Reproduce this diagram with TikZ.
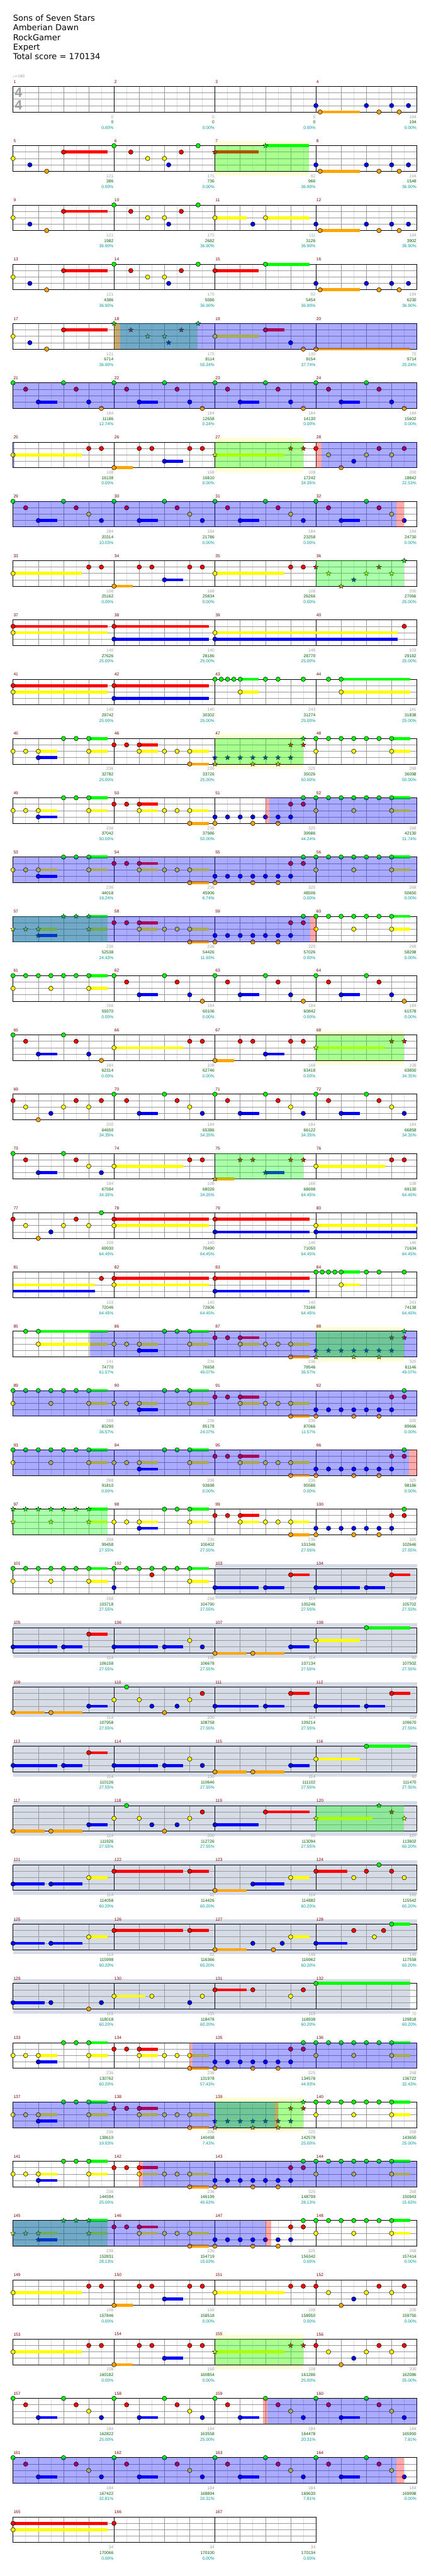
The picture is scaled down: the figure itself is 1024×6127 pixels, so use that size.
\documentclass[tikz,border=0pt]{standalone}
\usepackage{fontspec}
\setmainfont{DejaVu Sans}
\newfontfamily\labelfont{Liberation Sans}
\usetikzlibrary{shapes.geometric}
\definecolor{lane0}{HTML}{00FF00}
\definecolor{lane1}{HTML}{FF0000}
\definecolor{lane2}{HTML}{FFFF00}
\definecolor{lane3}{HTML}{0000FF}
\definecolor{lane4}{HTML}{FFA500}
\definecolor{barRed}{HTML}{800000}
\definecolor{scoreGray}{HTML}{A0A0A0}
\definecolor{scoreGreen}{HTML}{006400}
\definecolor{scoreTeal}{HTML}{009999}
\definecolor{gridGray}{HTML}{999999}
\definecolor{gridLight}{HTML}{DDDDDD}
\definecolor{phraseBand}{HTML}{FFFFD5}
\definecolor{soloBand}{HTML}{D5DCE8}
\pgfdeclarelayer{bands}
\pgfdeclarelayer{grid}
\pgfdeclarelayer{tint}
\pgfsetlayers{bands,grid,main,tint}
\newcommand\smallnum{\labelfont\fontsize{10}{12}\selectfont}
\tikzset{
  staffrow/.style={shift={(31,{205.5+141*(#1-1)})}},
  frame/.style={draw=black, line width=1.2pt},
  barline/.style={draw=black, line width=1pt},
  beatline/.style={draw=gridGray, line width=1pt},
  laneline/.style={draw=gridGray, line width=1pt},
  subline/.style={draw=gridLight, line width=1pt},
  gem/.style={circle, draw=black, line width=0.8pt, minimum size=10.5pt, inner sep=0pt},
  stargem/.style={star, star points=5, star point ratio=2.3, draw=black,
                  line width=0.6pt, minimum size=12pt, inner sep=0pt},
  sus/.style={line width=7pt},
  spblue/.style={fill=blue, fill opacity=0.333},
  spgreen/.style={fill=lane0, fill opacity=0.333},
  spred/.style={fill=red, fill opacity=0.333},
  barnum/.style={anchor=west, inner sep=0pt, text=barRed, font=\smallnum},
  gscore/.style={anchor=east, inner sep=0pt, text=scoreGray, font=\smallnum},
  tscore/.style={anchor=east, inner sep=0pt, text=scoreGreen, font=\smallnum},
  pscore/.style={anchor=east, inner sep=0pt, text=scoreTeal, font=\smallnum},
  titletext/.style={anchor=base west, inner sep=0pt, font=\fontsize{19.5}{23}\selectfont},
}
% one staff row: grid and bar numbers
\newcommand\staffgrid[1]{%
  \pgfmathtruncatemacro\gridend{#1*240}%
  \begin{pgfonlayer}{grid}
    \foreach \gx in {30,90,...,\gridend} \draw[subline] (\gx,0) -- (\gx,60.8);
    \foreach \gy in {15.2,30.4,45.6} \draw[laneline] (0,\gy) -- (\gridend,\gy);
    \foreach \gx in {60,120,...,\gridend} \draw[beatline] (\gx,0) -- (\gx,60.8);
    \foreach \gx in {240,480,...,\gridend} \draw[barline] (\gx,0) -- (\gx,60.8);
    \draw[frame] (0,0) rectangle (\gridend,60.8);
  \end{pgfonlayer}
  \foreach \m in {1,...,#1}{%
    \pgfmathtruncatemacro\mnum{4*(\rw-1)+\m}%
    \node[barnum] (bar-\mnum) at ({240*(\m-1)+1},-11.4) {\mnum};}}
\newcommand\staffstart[2]{\begin{scope}[staffrow=#1]\def\rw{#1}\staffgrid{#2}}
\newcommand\staffstop{\end{scope}}
% a gem, with its sustain
\newcommand\drawgem[5]{%
  \pgfmathtruncatemacro\posx{#1+#2}%
  \pgfmathsetmacro\posy{15.2*#3}%
  \ifnum#4>0
    \pgfmathtruncatemacro\posend{#1+#4}%
    \coordinate (sus-\rw-\posx-#3) at (\posx,\posy);
    \coordinate (end-\rw-\posx-#3) at (\posend,\posy);
    \draw[sus, draw=lane#3] (sus-\rw-\posx-#3) -- (end-\rw-\posx-#3);
  \fi
  \node[#5, fill=lane#3] (gem-\rw-\posx-#3) at (\posx,\posy) {};}
\newcommand\gems[2][0]{\edef\gemlist{#2}%
  \foreach \px/\pl/\pe in \gemlist {\drawgem{#1}{\px}{\pl}{\pe}{gem}}}
\newcommand\stars[2][0]{\edef\gemlist{#2}%
  \foreach \px/\pl/\pe in \gemlist {\drawgem{#1}{\px}{\pl}{\pe}{stargem}}}
\newcommand\tails[1]{\foreach \px/\pl/\pe in {#1}{%
  \coordinate (tail-\rw-\pl) at (\px,{15.2*\pl});
  \coordinate (tailend-\rw-\pl) at (\pe,{15.2*\pl});
  \draw[sus, draw=lane\pl] (tail-\rw-\pl) -- (tailend-\rw-\pl);}}
\newcommand\tint[3]{\begin{pgfonlayer}{tint}\fill[#1] (#2,0) rectangle (#3,60.8);\end{pgfonlayer}}
\newcommand\hiband[3]{\begin{pgfonlayer}{bands}\fill[#1] (#2,-10.5) rectangle (#3,71.5);\end{pgfonlayer}}
\newcommand\scores[1]{\foreach \gs/\ts/\ps [count=\m] in {#1}{%
  \node[gscore] (gs-\rw-\m) at ({240*\m-1},72.3) {\gs};
  \node[tscore] (ts-\rw-\m) at ({240*\m-1},85.3) {\ts};
  \node[pscore] (ps-\rw-\m) at ({240*\m-1},98.3) {\ps\%};}}
% riffs
\def\riffA{0/3/0, 120/3/0, 180/3/0, 220/3/0, 10/4/105, 150/4/0, 198/4/0}
\def\riffI{0/2/0, 40/3/0, 80/4/0, 120/1/225, 240/0/0, 280/1/0, 320/2/0, 360/2/0, 370/3/0, 400/1/0, 440/0/0}
\def\riffB{0/0/0, 30/1/0, 60/3/105, 120/0/0, 150/1/0, 180/3/0, 210/4/0}
\def\riffBb{0/0/0, 30/1/0, 60/3/105, 120/0/0, 150/1/0, 180/2/0, 210/3/0}
\def\riffCa{0/2/0, 30/2/0, 60/2/105, 60/3/105, 120/0/0, 150/0/0, 180/0/225, 180/2/225}
\def\riffCb{240/1/0, 270/1/0, 300/1/345, 300/2/345, 360/2/0, 390/2/0, 420/2/465, 420/4/465}
\def\riffCc{480/3/0, 510/3/0, 540/3/0, 570/3/0, 600/3/0, 630/3/0, 660/3/0, 480/4/0, 570/4/0, 630/4/0, 660/1/0, 690/1/0, 690/0/0}
\def\riffCd{720/0/0, 750/0/0, 780/0/0, 810/0/0, 840/0/0, 870/0/0, 900/0/944, 720/2/0, 810/2/0, 900/2/944}
\def\riffDa{0/0/0, 30/0/0, 60/0/0, 90/0/0, 120/0/0, 150/0/0, 180/0/225, 0/2/0, 90/2/0, 180/2/225}
\def\riffDb{240/2/0, 270/2/0, 300/2/345, 300/3/345, 360/0/0, 390/0/0, 420/0/465, 420/2/465}
\def\riffDc{480/1/0, 510/1/0, 540/1/585, 540/2/585, 600/2/0, 630/2/0, 660/2/705, 660/4/705}
\def\riffDd{720/3/0, 750/3/0, 780/3/0, 810/3/0, 840/3/0, 870/3/0, 900/3/0, 720/4/0, 810/4/0, 870/4/0, 900/1/0, 930/1/0, 930/0/0}
\def\riffE{0/2/164, 180/1/0, 210/1/0, 240/4/285, 300/1/0, 330/1/0, 360/3/405, 420/1/0, 450/1/0}
\def\riffF{0/1/0, 30/2/0, 60/4/0, 90/3/0, 120/2/0, 150/1/0, 180/2/0}
\def\riffG{0/3/105, 120/3/165, 180/1/225, 240/3/345, 360/3/405, 420/2/0, 450/3/0, 480/4/555, 570/4/645, 660/3/705, 720/2/825, 840/0/944}
\def\riffH{0/4/75, 90/4/165, 180/3/225, 240/2/0, 270/0/0, 300/2/0, 330/3/0, 360/4/0, 390/3/0, 420/2/0, 450/1/0}
\def\riffK{720/1/0, 750/2/0, 780/4/0, 810/3/0, 840/2/0, 870/1/0, 900/2/0, 930/1/0}
\begin{document}
\begin{tikzpicture}[x=1pt, y=-1pt]
\begin{pgfonlayer}{bands}
  \fill[white] (0,0) rectangle (1024,6127);
\end{pgfonlayer}
\useasboundingbox (0,0) rectangle (1024,6127);
% header
\node[titletext] (song) at (31,50) {Sons of Seven Stars};
\node[titletext] (band) at (31,73) {Amberian Dawn};
\node[titletext] (charter) at (31,96) {RockGamer};
\node[titletext] (level) at (31,119) {Expert};
\node[titletext] (total) at (31,142) {Total score = 170134};
\node[anchor=west, inner sep=0pt, text=scoreGray, font=\fontsize{9}{10}\selectfont] (tempo) at (30,181) {♩=180};
\node[inner sep=0pt, text=scoreGray, font=\labelfont\bfseries\fontsize{32}{32}\selectfont] (sigtop) at (44,220) {4};
\node[inner sep=0pt, text=scoreGray, font=\labelfont\bfseries\fontsize{32}{32}\selectfont] (sigbot) at (44,250) {4};
% rows
\staffstart{1}{4}
  \gems[720]{\riffA}
  \scores{0/0/0.00, 0/0/0.00, 0/0/0.00, 194/194/0.00}
\staffstop
\staffstart{2}{4}
  \hiband{phraseBand}{480}{704}
  \gems{\riffI}
  \stars{480/1/584, 600/0/704}
  \gems[720]{\riffA}
  \tint{spgreen}{480}{704}
  \scores{121/386/0.00, 175/736/0.00, 92/966/36.90, 194/1548/36.90}
\staffstop
\staffstart{3}{4}
  \gems{\riffI}
  \gems{480/2/555, 570/3/0, 600/2/705}
  \gems[720]{\riffA}
  \scores{121/1982/36.90, 175/2682/36.90, 111/3126/36.90, 194/3902/36.90}
\staffstop
\staffstart{4}{4}
  \gems{\riffI}
  \gems{480/1/584, 600/0/705}
  \gems[720]{\riffA}
  \scores{121/4386/36.90, 175/5086/36.90, 92/5454/36.90, 194/6230/36.90}
\staffstop
\staffstart{5}{4}
  \gems{0/2/0, 40/3/0, 80/4/0, 120/1/225}
  \stars{240/0/0, 280/1/0, 320/2/0, 360/2/0, 370/3/0, 400/1/0, 440/0/0}
  \gems{480/2/584, 600/1/645, 660/3/0, 690/4/0, 720/4/944}
  \tint{spgreen}{240}{439}
  \tint{spred}{240}{255}
  \tint{spblue}{255}{960}
  \scores{121/6714/36.90, 175/8114/50.24, 130/9154/37.74, 70/9714/25.24}
\staffstop
\staffstart{6}{4}
  \gems{\riffB} \gems[240]{\riffB} \gems[480]{\riffB} \gems[720]{\riffB}
  \tint{spblue}{0}{960}
  \scores{184/11186/12.74, 184/12658/0.24, 184/14130/0.00, 184/15602/0.00}
\staffstop
\staffstart{7}{4}
  \hiband{phraseBand}{480}{690}
  \gems{\riffE}
  \stars{480/2/645, 660/1/0, 690/1/0}
  \gems{\riffK}
  \tint{spblue}{0}{4}
  \tint{spgreen}{480}{690}
  \tint{spred}{720}{733}
  \tint{spblue}{733}{960}
  \scores{108/16138/0.00, 168/16810/0.00, 108/17242/34.35, 200/18842/22.53}
\staffstop
\staffstart{8}{4}
  \gems{\riffBb} \gems[240]{\riffBb} \gems[480]{\riffBb} \gems[720]{\riffBb}
  \tint{spblue}{0}{911}
  \tint{spred}{911}{930}
  \scores{184/20314/10.03, 184/21786/0.00, 184/23258/0.00, 184/24730/0.00}
\staffstop
\staffstart{9}{4}
  \gems{\riffE}
  \gems{480/2/645, 660/1/0, 690/1/0}
  \stars{720/1/0, 750/2/0, 780/4/0, 810/3/0, 840/2/0, 870/1/0, 900/2/0, 930/0/0}
  \tint{spgreen}{720}{930}
  \scores{108/25162/0.00, 168/25834/0.00, 108/26266/0.00, 200/27066/25.00}
\staffstop
\staffstart{10}{4}
  \gems{0/1/225, 0/2/225, 240/1/465, 240/3/465, 480/2/915, 480/3/915, 930/1/0}
  \scores{140/27626/25.00, 140/28186/25.00, 146/28770/25.00, 103/29182/25.00}
\staffstop
\staffstart{11}{4}
  \gems{0/1/225, 0/2/225, 240/1/465, 240/3/465, 480/0/0, 495/0/0, 510/0/0, 525/0/0,
        540/0/584, 540/2/584, 600/0/0, 630/0/0, 690/0/0, 750/0/0, 780/0/944, 780/2/944}
  \scores{140/29742/25.00, 140/30302/25.00, 243/31274/25.00, 141/31838/25.00}
\staffstop
\staffstart{12}{4}
  \hiband{phraseBand}{480}{690}
  \gems{\riffCa} \gems{\riffCb} \stars{\riffCc} \gems{\riffCd}
  \tint{spgreen}{480}{690}
  \scores{236/32782/25.00, 236/33726/25.00, 325/35026/50.00, 268/36098/50.00}
\staffstop
\staffstart{13}{4}
  \gems{\riffCa} \gems{\riffCb} \gems{\riffCc} \gems{\riffCd}
  \tint{spred}{600}{609}
  \tint{spblue}{609}{960}
  \scores{236/37042/50.00, 236/37986/50.00, 325/39986/44.24, 268/42130/31.74}
\staffstop
\staffstart{14}{4}
  \gems{\riffCa} \gems{\riffCb} \gems{\riffCc} \gems{\riffCd}
  \tint{spblue}{0}{960}
  \scores{236/44018/19.24, 236/45906/6.74, 325/48506/0.00, 268/50650/0.00}
\staffstop
\staffstart{15}{4}
  \stars{\riffCa} \gems{\riffCb} \gems{\riffCc} \gems{\riffCd}
  \tint{spgreen}{0}{225}
  \tint{spblue}{0}{707}
  \tint{spred}{707}{720}
  \scores{236/52538/24.43, 236/54426/11.93, 325/57026/0.00, 268/58298/0.00}
\staffstop
\staffstart{16}{4}
  \gems{\riffDa} \gems[240]{\riffB} \gems[480]{\riffB} \gems[720]{\riffB}
  \scores{268/59370/0.00, 184/60106/0.00, 184/60842/0.00, 184/61578/0.00}
\staffstop
\staffstart{17}{4}
  \hiband{phraseBand}{720}{930}
  \gems{\riffB}
  \gems{240/2/405, 420/1/0, 450/1/0, 480/4/525, 540/1/0, 570/1/0, 600/3/645, 660/1/0, 690/1/0}
  \stars{720/2/885, 900/1/0, 930/1/0}
  \tint{spgreen}{720}{930}
  \scores{184/62314/0.00, 108/62746/0.00, 168/63418/0.00, 108/63850/34.35}
\staffstop
\staffstart{18}{4}
  \gems{\riffF} \gems{210/1/0}
  \gems[240]{\riffBb} \gems[480]{\riffBb} \gems[720]{\riffBb}
  \scores{200/64650/34.35, 184/65386/34.35, 184/66122/34.35, 184/66858/34.35}
\staffstop
\staffstart{19}{4}
  \gems{\riffBb}
  \gems{240/2/405, 420/1/0, 450/1/0}
  \stars{480/4/525, 540/1/0, 570/1/0, 600/3/645, 660/1/0, 690/1/0}
  \gems{720/2/885, 900/1/0, 930/1/0}
  \tint{spgreen}{480}{690}
  \scores{184/67594/34.35, 108/68026/34.35, 168/68698/64.45, 108/69130/64.45}
\staffstop
\staffstart{20}{4}
  \gems{\riffF} \gems{210/0/0}
  \gems{240/1/465, 240/2/465, 480/1/705, 480/3/705, 720/2/960, 720/3/960}
  \scores{200/69930/64.45, 140/70490/64.45, 140/71050/64.45, 146/71634/64.45}
\staffstop
\staffstart{21}{4}
  \tails{0/2/195, 0/3/195}
  \gems{210/1/0, 240/1/465, 240/2/465, 480/1/705, 480/3/705, 720/0/0, 735/0/0, 750/0/0,
        765/0/0, 780/0/825, 780/2/825, 840/0/0, 870/0/0, 930/0/0}
  \scores{103/72046/64.45, 140/72606/64.45, 140/73166/64.45, 243/74138/64.45}
\staffstop
\staffstart{22}{4}
  \hiband{phraseBand}{720}{930}
  \gems{30/0/0, 60/0/225, 60/2/225}
  \gems{\riffDb} \gems{\riffDc} \stars{\riffDd}
  \tint{spblue}{183}{960}
  \tint{spgreen}{720}{930}
  \scores{141/74770/61.57, 236/76658/49.07, 236/78546/36.57, 325/81146/49.07}
\staffstop
\staffstart{23}{4}
  \gems{\riffDa} \gems{\riffDb} \gems{\riffDc} \gems{\riffDd}
  \tint{spblue}{0}{960}
  \scores{268/83290/36.57, 236/85178/24.07, 236/87066/11.57, 325/89666/0.00}
\staffstop
\staffstart{24}{4}
  \gems{\riffDa} \gems{\riffDb} \gems{\riffDc} \gems{\riffDd}
  \tint{spblue}{0}{941}
  \tint{spred}{941}{960}
  \scores{268/91810/0.00, 236/93698/0.00, 236/95586/0.00, 325/98186/0.00}
\staffstop
\staffstart{25}{4}
  \stars{\riffDa} \gems{\riffDb} \gems{\riffDc} \gems{\riffDd}
  \tint{spgreen}{0}{225}
  \scores{268/99458/27.55, 236/100402/27.55, 236/101346/27.55, 325/102646/27.55}
\staffstop
\staffstart{26}{4}
  \hiband{soloBand}{480}{960}
  \gems{\riffDa}
  \gems{240/0/0, 270/0/0, 300/0/0, 330/0/0, 360/0/0, 390/0/0, 420/0/465, 330/1/0, 240/3/0, 420/2/465}
  \gems{480/3/584, 600/3/645, 660/1/705, 720/3/825, 840/3/885, 900/1/944}
  \scores{268/103718/27.55, 268/104790/27.55, 114/105246/27.55, 114/105702/27.55}
\staffstop
\staffstart{27}{4}
  \hiband{soloBand}{0}{960}
  \gems{\riffG}
  \scores{114/106158/27.55, 130/106678/27.55, 114/107134/27.55, 92/107502/27.55}
\staffstop
\staffstart{28}{4}
  \hiband{soloBand}{0}{960}
  \gems{\riffH}
  \gems{480/3/584, 600/3/645, 660/1/705, 720/3/825, 840/3/885, 900/1/944}
  \scores{114/107958/27.55, 200/108758/27.55, 114/109214/27.55, 114/109670/27.55}
\staffstop
\staffstart{29}{4}
  \hiband{soloBand}{0}{960}
  \gems{\riffG}
  \scores{114/110126/27.55, 130/110646/27.55, 114/111102/27.55, 92/111470/27.55}
\staffstop
\staffstart{30}{4}
  \hiband{soloBand}{0}{960}
  \gems{\riffH}
  \gems{480/3/584, 600/1/705}
  \stars{720/2/855, 870/0/0, 900/1/0, 930/2/0}
  \tint{spgreen}{720}{930}
  \scores{114/111926/27.55, 200/112726/27.55, 92/113094/27.55, 127/113602/60.20}
\staffstop
\staffstart{31}{4}
  \hiband{soloBand}{0}{960}
  \gems{0/3/75, 90/3/165, 180/2/225, 240/1/405, 420/1/465, 480/4/555, 570/3/645, 660/2/705,
        720/1/795, 810/2/0, 840/1/0, 870/0/0, 900/1/0, 930/2/0}
  \scores{114/114058/60.20, 92/114426/60.20, 114/114882/60.20, 165/115542/60.20}
\staffstop
\staffstart{32}{4}
  \hiband{soloBand}{0}{960}
  \gems{0/3/75, 90/3/165, 180/2/225, 240/1/405, 420/1/465, 480/4/555, 570/3/0, 619/4/0,
        640/3/0, 660/2/705, 720/3/795, 810/1/0, 859/2/0, 881/1/0, 900/0/944}
  \scores{114/115998/60.20, 92/116366/60.20, 149/116962/60.20, 149/117558/60.20}
\staffstop
\staffstart{33}{4}
  \hiband{soloBand}{0}{944}
  \gems{0/3/75, 90/3/0, 180/4/0, 210/3/0, 240/2/315, 330/2/0, 420/3/0, 450/2/0,
        480/1/555, 570/1/0, 660/2/0, 690/1/0, 720/0/944}
  \scores{115/118018/60.20, 115/118478/60.20, 115/118938/60.20, 70/129818/60.20}
\staffstop
\staffstart{34}{4}
  \gems{\riffCa} \gems{\riffCb} \gems{\riffCc} \gems{\riffCd}
  \tint{spred}{420}{426}
  \tint{spblue}{426}{960}
  \scores{236/130762/60.20, 236/131978/57.43, 325/134578/44.93, 268/136722/32.43}
\staffstop
\staffstart{35}{4}
  \hiband{phraseBand}{480}{690}
  \gems{\riffCa} \gems{\riffCb} \stars{\riffCc} \gems{\riffCd}
  \tint{spblue}{0}{622}
  \tint{spgreen}{480}{690}
  \tint{spred}{622}{630}
  \scores{236/138610/19.93, 236/140498/7.43, 325/142578/25.00, 268/143650/25.00}
\staffstop
\staffstart{36}{4}
  \gems{\riffCa} \gems{\riffCb} \gems{\riffCc} \gems{\riffCd}
  \tint{spred}{300}{309}
  \tint{spblue}{309}{960}
  \scores{236/144594/25.00, 236/146199/40.63, 325/148799/28.13, 268/150943/15.63}
\staffstop
\staffstart{37}{4}
  \stars{\riffCa} \gems{\riffCb} \gems{\riffCc} \gems{\riffCd}
  \tint{spgreen}{0}{225}
  \tint{spblue}{0}{600}
  \tint{spred}{600}{614}
  \scores{236/152831/28.13, 236/154719/15.63, 325/156342/0.00, 268/157414/0.00}
\staffstop
\staffstart{38}{4}
  \gems{\riffE}
  \gems{480/2/645, 660/1/0, 690/1/0}
  \gems{\riffK}
  \scores{108/157846/0.00, 168/158518/0.00, 108/158950/0.00, 200/159750/0.00}
\staffstop
\staffstart{39}{4}
  \hiband{phraseBand}{480}{690}
  \gems{\riffE}
  \stars{480/2/645, 660/1/0, 690/1/0}
  \gems{\riffK}
  \tint{spgreen}{480}{690}
  \scores{108/160182/0.00, 168/160854/0.00, 108/161286/25.00, 200/162086/25.00}
\staffstop
\staffstart{40}{4}
  \gems{\riffBb} \gems[240]{\riffBb} \gems[480]{\riffBb} \gems[720]{\riffBb}
  \tint{spred}{594}{605}
  \tint{spblue}{605}{960}
  \scores{184/162822/25.00, 184/163558/25.00, 184/164478/20.31, 184/165950/7.81}
\staffstop
\staffstart{41}{4}
  \gems{\riffBb} \gems[240]{\riffBb} \gems[480]{\riffBb} \gems[720]{\riffBb}
  \tint{spblue}{0}{911}
  \tint{spred}{911}{930}
  \scores{184/167422/32.81, 184/168894/20.31, 184/169630/7.81, 184/169998/0.00}
\staffstop
\staffstart{42}{3}
  \gems{0/1/225, 0/2/225, 240/1/0}
  \scores{34/170066/0.00, 34/170100/0.00, 34/170134/0.00}
\staffstop
\end{tikzpicture}
\end{document}
